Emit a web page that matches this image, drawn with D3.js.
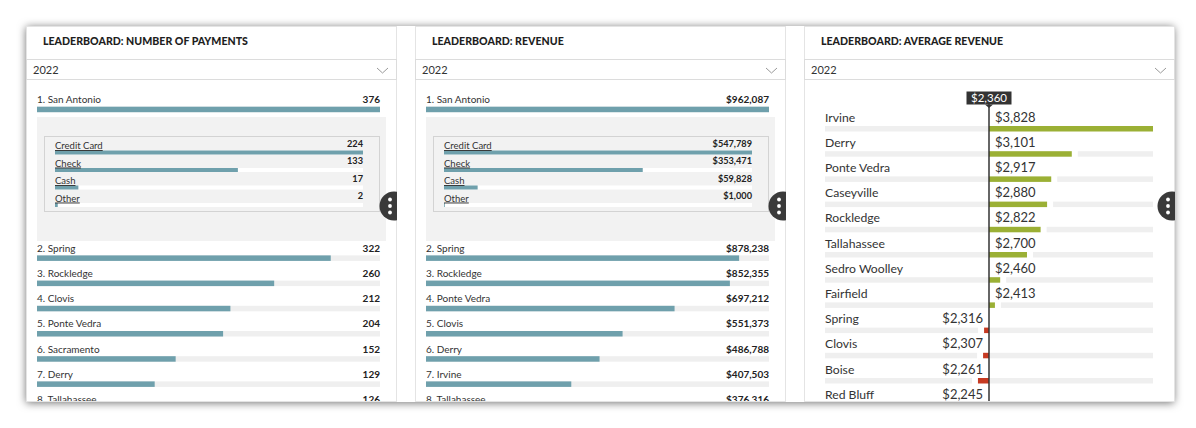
<!DOCTYPE html>
<html><head><meta charset="utf-8">
<script src="https://cdn.jsdelivr.net/npm/d3@7"></script>
<style>
html,body{margin:0;padding:0;background:#fff;}
svg{display:block;font-family:Lato,"Open Sans",sans-serif;}
</style></head>
<body>
<svg id="chart" width="1196" height="428"></svg>
<script>
// ---------- data ----------
const yearLabel = "2022";
const titles = ["LEADERBOARD: NUMBER OF PAYMENTS","LEADERBOARD: REVENUE","LEADERBOARD: AVERAGE REVENUE"];

const paymentCities = ["San Antonio","Spring","Rockledge","Clovis","Ponte Vedra","Sacramento","Derry","Tallahassee"];
const paymentCounts = [376,322,260,212,204,152,129,126];

const revenueCities = ["San Antonio","Spring","Rockledge","Ponte Vedra","Clovis","Derry","Irvine","Tallahassee"];
const revenueValues = [962087,878238,852355,697212,551373,486788,407503,376316];

const methods = ["Credit Card","Check","Cash","Other"];
const methodCounts = [224,133,17,2];
const methodRevenue = [547789,353471,59828,1000];

const avgCities = ["Irvine","Derry","Ponte Vedra","Caseyville","Rockledge","Tallahassee","Sedro Woolley","Fairfield","Spring","Clovis","Boise","Red Bluff"];
const avgValues = [3828,3101,2917,2880,2822,2700,2460,2413,2316,2307,2261,2245];
const avgOverall = 2360;

// ---------- layout ----------
const svg = d3.select("#chart");
const W = 1196, H = 428;
const card = {x:26, y:26, w:1148, h:376};
const panelX = [26, 415, 804];
const panelW = 371;
const teal = "#6fa0ac", track = "#efefef", green = "#9bb035", red = "#c63a22", ink = "#333";

const defs = svg.append("defs");
const f = defs.append("filter").attr("id","shadow").attr("x","-5%").attr("y","-20%").attr("width","110%").attr("height","140%");
f.append("feDropShadow").attr("dx",0).attr("dy",1).attr("stdDeviation",4).attr("flood-color","#000").attr("flood-opacity",0.55);

panelX.forEach((px,i)=>{
  defs.append("clipPath").attr("id","clip"+i).append("rect")
    .attr("x",px).attr("y",card.y).attr("width",panelW).attr("height",card.h-1);
});

svg.append("rect").attr("width",W).attr("height",H).attr("fill","#fff");
svg.append("rect").attr("x",card.x).attr("y",card.y).attr("width",card.w).attr("height",card.h)
  .attr("fill","#fff").attr("filter","url(#shadow)");

function panelFrame(i){
  const px = panelX[i];
  const g = svg.append("g");
  g.append("rect").attr("x",px+0.5).attr("y",card.y+0.5).attr("width",panelW-1).attr("height",card.h-1)
    .attr("fill","#fff").attr("stroke","#e4e4e4");
  const c = g.append("g").attr("clip-path","url(#clip"+i+")");
  c.append("text").attr("x",px+17).attr("y",45).attr("font-size",10.6).attr("font-weight",900)
    .attr("fill","#1e1e1e").text(titles[i]);
  c.append("rect").attr("x",px+0.5).attr("y",59.5).attr("width",panelW-1).attr("height",20)
    .attr("fill","#fff").attr("stroke","#dcdcdc");
  c.append("text").attr("x",px+7).attr("y",74).attr("font-size",11).attr("fill",ink).text(yearLabel);
  c.append("path").attr("d",`M${px+351},${68}L${px+356.5},${73}L${px+362},${68}`)
    .attr("fill","none").attr("stroke","#999").attr("stroke-width",1);
  return c;
}

function moreButton(c, px){
  const b = c.append("g");
  b.append("circle").attr("cx",px+368).attr("cy",206).attr("r",14.5).attr("fill","#3a3a3a");
  [-6.5,0,6.5].forEach(d=>b.append("circle").attr("cx",px+364).attr("cy",206+d).attr("r",1.9).attr("fill","#fff"));
}

function leaderboard(i, cities, values, subValues, fmt){
  const px = panelX[i];
  const c = panelFrame(i);
  const x = d3.scaleLinear().domain([0, d3.max(values)]).range([px+11, px+354]);
  const rowY = d3.scaleLinear().domain([1,2]).range([251.7, 276.9]);
  const baseY = (k)=> k===0 ? 103 : rowY(k);

  // expanded detail box
  c.append("rect").attr("x",px+11).attr("y",117).attr("width",349).attr("height",124).attr("fill","#f2f2f2");
  c.append("rect").attr("x",px+18.5).attr("y",136.5).attr("width",335).attr("height",75)
    .attr("fill","none").attr("stroke","#b5b5b5").attr("stroke-dasharray","1,1");

  const sx = d3.scaleLinear().domain([0, d3.max(subValues)]).range([px+29, px+337]);
  const subY = d3.scaleLinear().domain([0,1]).range([149.5,167]);
  const sub = c.selectAll(".sub").data(methods.map((m,k)=>({m, v:subValues[k], k}))).enter().append("g");
  sub.append("rect").attr("x",px+29).attr("y",d=>subY(d.k)+1).attr("width",sx.range()[1]-sx.range()[0]).attr("height",4).attr("fill","#fff");
  sub.append("rect").attr("x",px+29).attr("y",d=>subY(d.k)+1).attr("width",d=>Math.max(0.8, sx(d.v)-sx(0))).attr("height",4).attr("fill",teal);
  sub.append("text").attr("x",px+29).attr("y",d=>subY(d.k)-0.5).attr("font-size",9.5).attr("fill",ink)
    .style("text-decoration","underline").text(d=>d.m);
  sub.append("text").attr("x",px+337).attr("y",d=>subY(d.k)-3).attr("text-anchor","end").attr("font-size",9.2)
    .attr("font-weight",700).attr("fill","#222").text(d=>fmt(d.v));

  const rows = c.selectAll(".row").data(cities.map((n,k)=>({n, v:values[k], k}))).enter().append("g");
  rows.append("rect").attr("x",px+11).attr("y",d=>baseY(d.k)+3.7).attr("width",x.range()[1]-x.range()[0]).attr("height",5.5).attr("fill",track);
  rows.append("rect").attr("x",px+11).attr("y",d=>baseY(d.k)+3.7).attr("width",d=>x(d.v)-x(0)).attr("height",5.5).attr("fill",teal);
  rows.append("text").attr("x",px+11).attr("y",d=>baseY(d.k)).attr("font-size",10).attr("fill",ink).text(d=>(d.k+1)+". "+d.n);
  rows.append("text").attr("x",px+354).attr("y",d=>baseY(d.k)).attr("text-anchor","end").attr("font-size",10)
    .attr("font-weight",700).attr("fill","#222").text(d=>fmt(d.v));

  moreButton(c, px);
}

leaderboard(0, paymentCities, paymentCounts, methodCounts, d3.format(","));
leaderboard(1, revenueCities, revenueValues, methodRevenue, d3.format("$,"));

// ---------- average revenue panel ----------
(function(){
  const i = 2, px = panelX[i];
  const c = panelFrame(i);
  const dev = d3.max(avgValues, v=>Math.abs(v-avgOverall));
  const x = d3.scaleLinear().domain([avgOverall-dev, avgOverall+dev]).range([px+21, px+349]);
  const rowY = d3.scaleLinear().domain([0,1]).range([121.5,146.7]);
  const x0 = x(avgOverall), gap = 6;
  const data = avgCities.map((n,k)=>({n, v:avgValues[k], k}));
  const rows = c.selectAll(".arow").data(data).enter().append("g");
  const bh = 5.5;
  // left track
  rows.append("rect").attr("x",x.range()[0]).attr("y",d=>rowY(d.k)+4.5)
    .attr("width",d=> d.v<avgOverall ? Math.max(0, x(d.v)-gap-x.range()[0]) : x0-x.range()[0])
    .attr("height",bh).attr("fill",track);
  // right track
  rows.append("rect").attr("x",d=> d.v>avgOverall ? x(d.v)+gap : x0).attr("y",d=>rowY(d.k)+4.5)
    .attr("width",d=> Math.max(0, x.range()[1] - (d.v>avgOverall ? x(d.v)+gap : x0)))
    .attr("height",bh).attr("fill",track);
  rows.append("rect").attr("x",d=>Math.min(x(d.v),x0)).attr("y",d=>rowY(d.k)+4.5)
    .attr("width",d=>Math.abs(x(d.v)-x0)).attr("height",bh).attr("fill",d=>d.v>=avgOverall?green:red);
  rows.append("text").attr("x",x.range()[0]).attr("y",d=>rowY(d.k)).attr("font-size",12.2).attr("fill",ink).text(d=>d.n);
  rows.append("text").attr("x",d=>d.v>=avgOverall ? x0+6 : x0-6).attr("y",d=>rowY(d.k))
    .attr("text-anchor",d=>d.v>=avgOverall?"start":"end").attr("font-size",13).attr("fill",ink)
    .text(d=>d3.format("$,")(d.v));

  c.append("line").attr("x1",x0).attr("x2",x0).attr("y1",104).attr("y2",card.y+card.h)
    .attr("stroke","#333").attr("stroke-width",1.5);
  c.append("rect").attr("x",x0-22.5).attr("y",91.5).attr("width",45).attr("height",13).attr("fill","#333");
  c.append("path").attr("d",`M${x0-4},104.5L${x0},108L${x0+4},104.5Z`).attr("fill","#333");
  c.append("text").attr("x",x0).attr("y",102.3).attr("text-anchor","middle").attr("font-size",11.5)
    .attr("fill","#fff").text(d3.format("$,")(avgOverall));

  moreButton(c, px);
})();
</script>
</body></html>
